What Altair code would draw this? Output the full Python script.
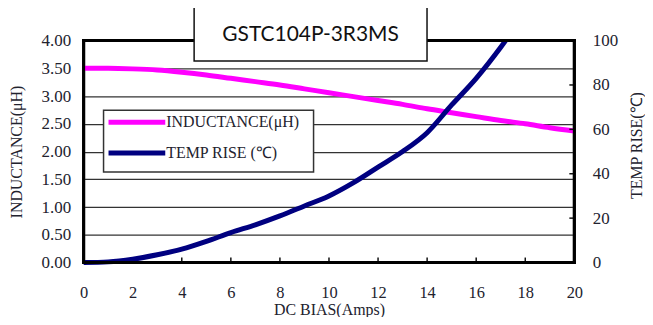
import altair as alt
import pandas as pd

# ---- data ----
bias_ind = [0, 1, 2, 3, 4, 5, 6, 7, 8, 9, 10, 11, 12, 13, 14, 15, 16, 17, 18, 19, 20]
inductance = [3.50, 3.50, 3.49, 3.47, 3.43, 3.38, 3.32, 3.26, 3.20, 3.13, 3.06,
              2.99, 2.92, 2.85, 2.77, 2.70, 2.63, 2.56, 2.50, 2.43, 2.37]
bias_temp = [0, 1, 2, 3, 4, 5, 6, 7, 8, 9, 10, 11, 12, 13, 14, 15, 16, 17, 17.2]
temp_rise = [0, 0.3, 1.5, 3.5, 6, 9.5, 13.5, 17, 21, 25.5, 30, 36, 43, 50, 58.5, 71, 83, 97, 100]
x_ticks = [0, 2, 4, 6, 8, 10, 12, 14, 16, 18, 20]
left_ticks = [0, 0.5, 1.0, 1.5, 2.0, 2.5, 3.0, 3.5, 4.0]
right_ticks = [0, 20, 40, 60, 80, 100]
inner_right_ticks = [20, 40, 60, 80]
x_domain = [0, 20]
ind_domain = [0, 4]
title_text = "GSTC104P-3R3MS"
legend_labels = ["INDUCTANCE(μH)", "TEMP RISE (℃)"]

W, H = 493, 223
SERIF = "Liberation Serif"
TXT = "#22222e"
MAGENTA = "#ff00ff"
NAVY = "#000080"

ind_df = pd.DataFrame({"bias": bias_ind, "ind": inductance})
temp_df = pd.DataFrame({"bias": bias_temp, "temp": temp_rise})
xt_df = pd.DataFrame({"bias": x_ticks})
rt_df = pd.DataFrame({"temp": inner_right_ticks})
one = pd.DataFrame({"a": [0]})

x_enc = alt.X("bias:Q", scale=alt.Scale(domain=x_domain, nice=False, zero=False),
              axis=alt.Axis(values=x_ticks, title="DC BIAS(Amps)", grid=False, domain=False, ticks=False,
                            labelFont=SERIF, labelFontSize=16.5, labelColor=TXT, labelPadding=22,
                            labelBaseline="top", labelFlush=False,
                            titleFont=SERIF, titleFontSize=16, titleFontWeight="normal", titleColor=TXT,
                            titleX=W / 2, titleY=47, titleBaseline="middle", titleAlign="center"))

y_ind = alt.Y("ind:Q", scale=alt.Scale(domain=ind_domain, nice=False),
              axis=alt.Axis(values=left_ticks, format=".2f", title="INDUCTANCE(μH)", grid=True,
                            gridColor="#333333", gridWidth=1.3, domain=False, ticks=False,
                            labelFont=SERIF, labelFontSize=17, labelColor=TXT, labelPadding=13,
                            labelFlush=False,
                            titleFont=SERIF, titleFontSize=16, titleFontWeight="normal", titleColor=TXT,
                            titleAngle=270, titleX=-67, titleY=H / 2, titleAlign="center",
                            titleBaseline="middle"))

y_temp = alt.Y("temp:Q", scale=alt.Scale(domain=[0, 100], nice=False),
               axis=alt.Axis(orient="right", values=right_ticks, title="TEMP RISE(℃)", grid=False,
                             domain=False, ticks=False, labelFlush=False,
                             labelFont=SERIF, labelFontSize=17, labelColor=TXT, labelPadding=18,
                             titleFont=SERIF, titleFontSize=16, titleFontWeight="normal", titleColor=TXT,
                             titleAngle=270, titleX=62, titleY=105, titleAlign="center",
                             titleBaseline="middle"))

ind_line = alt.Chart(ind_df).mark_line(color=MAGENTA, strokeWidth=5, interpolate="monotone").encode(
    x=x_enc, y=y_ind
)

x_inner_ticks = alt.Chart(xt_df).mark_rule(color="#111111", strokeWidth=1.5).encode(
    x=x_enc, y=alt.value(H - 5), y2=alt.value(H),
)

ind_group = alt.layer(ind_line, x_inner_ticks)

temp_line = alt.Chart(temp_df).mark_line(color=NAVY, strokeWidth=5, interpolate="monotone").encode(
    x=x_enc, y=y_temp
)

r_inner_ticks = alt.Chart(rt_df).mark_rule(color="#111111", strokeWidth=1.5).encode(
    y=y_temp, x=alt.value(W - 5), x2=alt.value(W),
)

temp_group = alt.layer(temp_line, r_inner_ticks)


# plot frame: four filled bars along the edges of the plot area
def bar(x1, x2, y1, y2):
    return alt.Chart(one).mark_rect(fill="#000000", strokeWidth=0).encode(
        x=alt.value(x1), x2=alt.value(x2), y=alt.value(y1), y2=alt.value(y2)
    )


B = 1.5
frame = alt.layer(
    bar(-B, W + B, -B, B),          # top
    bar(-B, W + B, H - B, H + B),   # bottom
    bar(-B, B, -B, H + B),          # left
    bar(W - B, W + B, -B, H + B),   # right
)

# title box
title_box = alt.Chart(one).mark_rect(fill="white", stroke="#111111", strokeWidth=1.5).encode(
    x=alt.value(111), x2=alt.value(345), y=alt.value(-35), y2=alt.value(20.5)
)
title_txt = alt.Chart(one).mark_text(font="Lato", fontSize=21, color="#111111",
                                     align="center", baseline="middle").encode(
    x=alt.value(228), y=alt.value(-5.5), text=alt.value(title_text)
)

# legend box
leg_box = alt.Chart(one).mark_rect(fill="white", stroke="#333333", strokeWidth=1.5).encode(
    x=alt.value(20), x2=alt.value(231), y=alt.value(70), y2=alt.value(132)
)
leg_l1 = alt.Chart(one).mark_rule(color=MAGENTA, strokeWidth=5).encode(
    x=alt.value(25), x2=alt.value(82), y=alt.value(82)
)
leg_l2 = alt.Chart(one).mark_rule(color=NAVY, strokeWidth=5).encode(
    x=alt.value(25), x2=alt.value(82), y=alt.value(113)
)
leg_t1 = alt.Chart(one).mark_text(font=SERIF, fontSize=16, color=TXT, align="left", baseline="middle").encode(
    x=alt.value(83), y=alt.value(82), text=alt.value(legend_labels[0])
)
leg_t2 = alt.Chart(one).mark_text(font=SERIF, fontSize=16, color=TXT, align="left", baseline="middle").encode(
    x=alt.value(83), y=alt.value(113), text=alt.value(legend_labels[1])
)

deco = alt.layer(frame, title_box, title_txt, leg_box, leg_l1, leg_l2, leg_t1, leg_t2)

chart = alt.layer(ind_group, temp_group, deco).resolve_scale(y="independent").properties(
    width=W, height=H,
    autosize=alt.AutoSizeParams(type="none"),
    padding={"left": 76, "top": 32, "right": 71, "bottom": 54},
).configure(background="white", view=alt.ViewConfig(stroke="#000000", strokeWidth=3))

chart.save("out.html", embed_options={"renderer": "svg", "actions": False})
